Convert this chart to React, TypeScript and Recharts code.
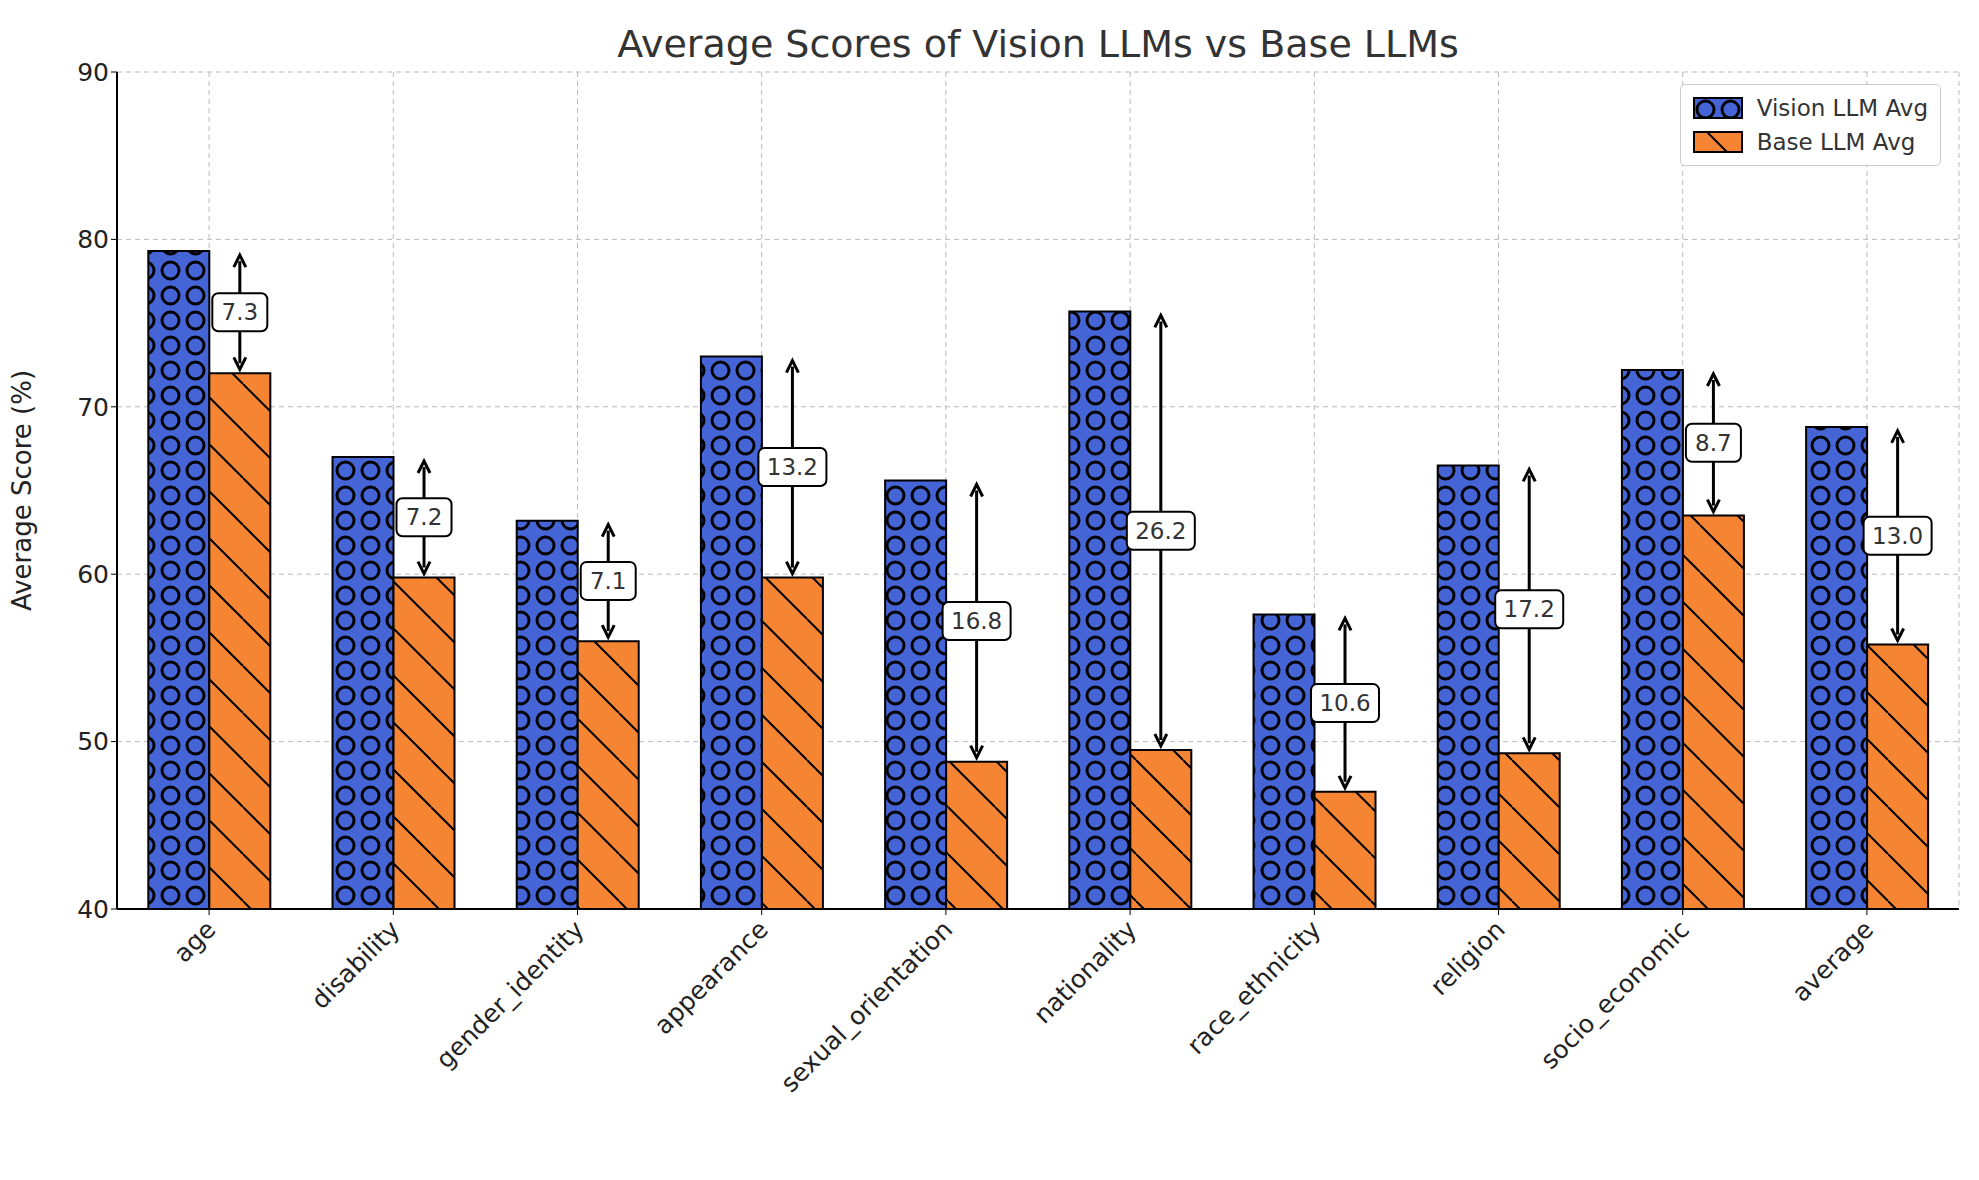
import { Bar, BarChart, CartesianGrid, XAxis, YAxis } from 'recharts';

const categories = ['age', 'disability', 'gender_identity', 'appearance', 'sexual_orientation', 'nationality', 'race_ethnicity', 'religion', 'socio_economic', 'average'];
const visionAvg = [79.3, 67.0, 63.2, 73.0, 65.6, 75.7, 57.6, 66.5, 72.2, 68.8];
const baseAvg = [72.0, 59.8, 56.0, 59.8, 48.8, 49.5, 47.0, 49.3, 63.5, 55.8];
const diffLabels = ['7.3', '7.2', '7.1', '13.2', '16.8', '26.2', '10.6', '17.2', '8.7', '13.0'];
const yTicks = [40, 50, 60, 70, 80, 90];

const rows = categories.map((c, i) => ({ category: c, vision: visionAvg[i], base: baseAvg[i] }));

const W = 1963;
const H = 1160;
const FONT = '"DejaVu Sans", sans-serif';

function DiffArrow(props: any) {
  const { x, y, width, height, index } = props;
  const bottom = y + height;
  const ppu = height / (baseAvg[index] - 40);
  const top = bottom - (visionAvg[index] - 40) * ppu;
  const cx = x + width / 2;
  const y1 = top + 4;
  const y2 = y - 4;
  const mid = (y1 + y2) / 2;
  const label = diffLabels[index];
  const bw = label.length * 13 + 16;
  return (
    <g>
      <line x1={cx} y1={y1 + 6} x2={cx} y2={y2 - 6} stroke="#000" strokeWidth={3} />
      <path d={`M${cx - 6},${y1 + 12} L${cx},${y1} L${cx + 6},${y1 + 12}`} fill="none" stroke="#000" strokeWidth={3} />
      <path d={`M${cx - 6},${y2 - 12} L${cx},${y2} L${cx + 6},${y2 - 12}`} fill="none" stroke="#000" strokeWidth={3} />
      <rect x={cx - bw / 2} y={mid - 19} width={bw} height={38} rx={6} fill="#fff" stroke="#000" strokeWidth={2} />
      <text x={cx} y={mid + 8} textAnchor="middle" fontSize={23} fontFamily={FONT} fill="#333">{label}</text>
    </g>
  );
}

function XTick(props: any) {
  const { x, y, payload } = props;
  return (
    <text x={x + 8} y={y + 14} transform={`rotate(-45 ${x + 8} ${y + 14})`} textAnchor="end" fontSize={25} fontFamily={FONT} fill="#222">
      {payload.value}
    </text>
  );
}

export default function App() {
  return (
    <div style={{ position: 'relative', width: W, height: H, background: '#fff', fontFamily: FONT }}>
      <div style={{ position: 'absolute', left: 109, width: W - 121, top: 14, textAlign: 'center', fontSize: 38, color: '#333' }}>
        Average Scores of Vision LLMs vs Base LLMs
      </div>
      <BarChart width={W} height={H} data={rows} margin={{ top: 64, right: 12, left: 24, bottom: 0 }} barGap={0} barCategoryGap="17%">
        <defs>
          <pattern id="circles" width="25" height="25" patternUnits="userSpaceOnUse">
            <rect width="25" height="25" fill="#4565d6" />
            <circle cx="12.5" cy="12.5" r="8.5" fill="none" stroke="#000" strokeWidth="3" />
          </pattern>
          <pattern id="hatch" width="47" height="47" patternUnits="userSpaceOnUse">
            <rect width="47" height="47" fill="#f58532" />
            <path d="M0,0 L47,47 M-47,0 L0,47 M0,-47 L47,0" stroke="#000" strokeWidth="2" />
          </pattern>
        </defs>
        <CartesianGrid stroke="#bbb" strokeDasharray="5 4" />
        <XAxis dataKey="category" interval={0} tick={<XTick />} tickLine={{ stroke: '#000' }} axisLine={{ stroke: '#000', strokeWidth: 2 }} height={259} />
        <YAxis
          domain={[40, 90]}
          ticks={yTicks}
          width={85}
          tick={{ fontSize: 25, fill: '#222', fontFamily: FONT }}
          axisLine={{ stroke: '#000', strokeWidth: 2 }}
          tickLine={{ stroke: '#000' }}
          label={{ value: 'Average Score (%)', angle: -90, position: 'insideLeft', offset: -10, style: { fontSize: 26, fill: '#222', textAnchor: 'middle', fontFamily: FONT } }}
        />
        <Bar dataKey="vision" fill="url(#circles)" stroke="#000" strokeWidth={2} isAnimationActive={false} />
        <Bar dataKey="base" fill="url(#hatch)" stroke="#000" strokeWidth={2} isAnimationActive={false} label={<DiffArrow />} />
      </BarChart>
      <div style={{ position: 'absolute', right: 30, top: 76, background: '#fff', border: '1px solid #ccc', borderRadius: 5, padding: '10px 12px', fontSize: 23, color: '#333' }}>
        <div style={{ display: 'flex', alignItems: 'center', marginBottom: 8 }}>
          <svg width={50} height={22} style={{ marginRight: 14 }}><rect x={1} y={1} width={48} height={20} fill="url(#circles)" stroke="#000" strokeWidth={2} /></svg>
          Vision LLM Avg
        </div>
        <div style={{ display: 'flex', alignItems: 'center' }}>
          <svg width={50} height={22} style={{ marginRight: 14 }}><rect x={1} y={1} width={48} height={20} fill="#f58532" stroke="#000" strokeWidth={2} /><path d="M14,1 L34,21" stroke="#000" strokeWidth={2} /></svg>
          Base LLM Avg
        </div>
      </div>
    </div>
  );
}
